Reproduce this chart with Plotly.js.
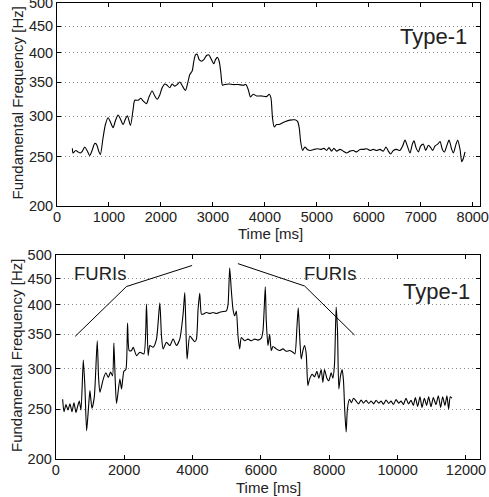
<!DOCTYPE html>
<html>
<head>
<meta charset="utf-8">
<script src="https://cdn.plot.ly/plotly-3.0.1.min.js"></script>
<style>html,body{margin:0;padding:0;background:#fff;}#chart{width:489px;height:497px;}</style>
</head>
<body>
<div id="chart"></div>
<script>
// ---- Data: top panel (Type-1, utterance 1) ----
var timeTop = [296,309,360,405,450,489,533,578,630,675,726,758,803,835,887,932,983,1028,1079,1124,1175,1220,1272,1317,1355,1413,1464,1497,1561,1612,1657,1721,1766,1830,1882,1927,1978,2023,2074,2119,2171,2216,2267,2312,2363,2408,2472,2511,2556,2601,2633,2665,2697,2736,2781,2825,2877,2922,2973,3018,3050,3089,3121,3153,3185,3230,3294,3390,3487,3583,3634,3679,3724,3776,3840,3936,4032,4084,4116,4148,4180,4225,4276,4334,4398,4482,4578,4629,4661,4687,4726,4771,4816,4880,4944,5008,5072,5137,5188,5233,5284,5329,5381,5445,5509,5573,5637,5702,5766,5830,5894,5958,6023,6087,6151,6215,6279,6331,6376,6420,6472,6536,6600,6652,6697,6741,6793,6838,6870,6909,6954,6999,7050,7095,7146,7191,7230,7275,7326,7371,7416,7455,7500,7545,7596,7628,7679,7711,7756,7788,7820,7852];
var f0Top = [259.4,254.1,257.0,255.3,254.1,256.2,261.1,257.0,251.2,257.0,265.2,264.4,256.2,252.1,272.5,288.9,297.9,292.2,284.8,293.9,301.5,296.3,288.9,296.3,300.5,287.7,308.9,322.3,322.3,325.2,321.3,317.3,326.2,336.1,328.7,323.8,330.2,341.1,347.0,345.0,341.1,347.0,343.6,346.0,350.0,344.5,337.1,347.0,362.2,367.8,384.4,395.6,396.7,387.2,384.4,387.2,394.4,395.6,387.2,380.0,387.2,391.1,384.4,365.0,345.0,346.0,347.0,346.0,346.0,345.0,346.0,338.6,327.2,331.2,328.7,328.7,327.7,331.2,326.2,297.1,285.7,288.9,288.9,291.0,293.0,294.7,295.1,293.0,284.8,268.4,257.0,261.1,258.2,257.0,258.2,259.0,258.2,259.4,257.0,260.3,256.2,259.4,256.2,258.2,256.2,254.1,256.2,257.0,255.3,258.2,258.2,259.0,257.0,258.2,257.0,258.2,256.2,261.1,256.2,252.9,257.0,258.2,257.0,262.3,269.3,262.3,254.1,264.4,268.4,260.3,255.3,262.3,264.4,257.0,263.1,260.3,257.0,262.3,264.4,267.6,258.2,255.3,262.3,269.3,258.2,254.1,264.4,269.3,258.2,244.3,248.1,255.3];

// ---- Data: bottom panel (Type-1 with FURIs) ----
var timeBot = [203,242,301,359,417,476,534,593,641,690,739,807,855,904,962,1001,1060,1128,1215,1254,1293,1391,1468,1537,1605,1663,1702,1741,1780,1877,1926,1994,2052,2101,2150,2218,2267,2364,2461,2578,2656,2704,2753,2850,2948,3045,3094,3142,3240,3337,3435,3532,3629,3726,3775,3804,3843,3921,3999,4067,4116,4164,4213,4262,4310,4408,4505,4602,4700,4797,4894,4992,5040,5089,5138,5186,5235,5284,5332,5381,5430,5527,5624,5721,5819,5916,6013,6062,6130,6159,6208,6257,6305,6354,6451,6549,6646,6743,6841,6938,6996,7055,7094,7133,7181,7230,7279,7327,7376,7425,7502,7570,7639,7697,7765,7814,7862,7931,7989,8057,8106,8154,8203,8242,8281,8330,8378,8417,8456,8495,8534,8592,8651,8709,8787,8855,8933,9001,9079,9157,9225,9303,9371,9449,9517,9585,9663,9741,9809,9877,9955,10033,10101,10169,10247,10315,10393,10461,10519,10587,10655,10714,10782,10850,10908,10977,11045,11123,11191,11259,11317,11385,11443,11492,11541,11590];
var f0Bot = [261.6,247.3,255.4,249.2,256.2,247.3,257.5,246.5,253.3,259.5,249.2,311.8,276.0,227.0,253.3,271.9,251.2,263.7,340.2,288.4,269.9,286.4,294.6,288.4,295.5,290.5,336.8,284.3,256.6,286.4,274.0,296.7,298.8,368.3,325.5,325.5,330.4,318.2,323.1,320.6,401.3,318.2,332.9,330.4,342.7,403.2,347.6,328.0,337.8,332.9,342.7,332.9,342.7,383.3,422.4,369.4,313.3,347.6,342.7,338.7,342.7,391.7,421.2,383.3,383.3,386.1,384.4,386.1,384.4,386.7,387.8,388.9,400.0,472.2,425.6,391.7,380.5,388.9,347.6,328.0,345.1,340.2,342.7,340.2,342.7,341.2,344.1,355.6,433.3,372.2,332.9,350.0,325.5,331.4,328.0,325.5,328.0,324.5,325.5,323.1,320.6,361.1,394.4,350.0,313.3,325.5,332.9,320.6,278.1,286.4,292.6,289.3,296.7,287.6,298.8,282.2,298.8,287.6,284.3,294.6,287.6,305.9,395.6,355.6,274.0,290.5,298.8,284.3,247.3,225.8,251.2,261.6,257.5,262.8,259.5,256.2,260.7,257.0,260.3,256.6,259.5,256.2,260.3,257.0,259.5,255.8,260.7,256.6,259.5,255.4,261.2,257.0,259.5,255.4,262.8,256.2,260.3,254.5,263.7,253.3,264.5,252.1,262.8,254.5,264.5,252.9,263.7,255.4,265.7,252.1,264.5,254.5,265.7,250.4,264.5,262.8];

// FURIs guide lines (bottom panel)
var furiLeftT = [570, 2070, 3990];
var furiLeftF = [347, 434, 477];
var furiRightT = [5330, 7280, 8740];
var furiRightF = [481, 435, 349];

var yTicks = [200, 250, 300, 350, 400, 450, 500];
var xTicksTop = [0, 1000, 2000, 3000, 4000, 5000, 6000, 7000, 8000];
var xTicksBot = [0, 2000, 4000, 6000, 8000, 10000, 12000];

var FONT = "Liberation Sans, Arial, Helvetica, sans-serif";
var TXT = '#222';

var traces = [
  {x: timeTop, y: f0Top, xaxis: 'x', yaxis: 'y', mode: 'lines',
   line: {color: '#000', width: 1.1, shape: 'spline', smoothing: 0.7}, hoverinfo: 'none'},
  {x: timeBot, y: f0Bot, xaxis: 'x2', yaxis: 'y2', mode: 'lines',
   line: {color: '#000', width: 1.1, shape: 'spline', smoothing: 0.6}, hoverinfo: 'none'},
  {x: furiLeftT, y: furiLeftF, xaxis: 'x2', yaxis: 'y2', mode: 'lines',
   line: {color: '#000', width: 1}, hoverinfo: 'none'},
  {x: furiRightT, y: furiRightF, xaxis: 'x2', yaxis: 'y2', mode: 'lines',
   line: {color: '#000', width: 1}, hoverinfo: 'none'}
];

function xAxis(domain, range, ticks, anchor) {
  return {
    domain: domain, range: range, anchor: anchor,
    tickmode: 'array', tickvals: ticks, ticktext: ticks.map(String),
    ticks: 'inside', ticklen: 4, tickwidth: 1, tickcolor: '#000',
    showline: true, linecolor: '#000', linewidth: 1, mirror: 'ticks',
    showgrid: false, zeroline: false, ticklabeloverflow: 'allow',
    ticklabelstandoff: -2,
    tickfont: {family: FONT, size: 14.5, color: TXT}
  };
}
function yAxis(domain, anchor) {
  return {
    domain: domain, type: 'log', range: [Math.log10(200), Math.log10(500)], anchor: anchor,
    tickmode: 'array', tickvals: yTicks, ticktext: yTicks.map(String),
    ticks: 'inside', ticklen: 4, tickwidth: 1, tickcolor: '#000',
    showline: true, linecolor: '#000', linewidth: 1, mirror: 'ticks',
    showgrid: true, gridcolor: '#8a8a8a', griddash: '1px,3px', gridwidth: 1,
    zeroline: false, ticklabeloverflow: 'allow',
    tickfont: {family: FONT, size: 14.5, color: TXT}
  };
}

var W = 489, H = 497;
function ann(text, px, py, size, xanchor, angle) {
  return {text: text, xref: 'paper', yref: 'paper', x: px / W, y: 1 - py / H,
          xanchor: xanchor, yanchor: 'middle', showarrow: false, textangle: angle || 0,
          font: {family: FONT, size: size, color: TXT}};
}

var layout = {
  width: W, height: H,
  margin: {l: 0, r: 0, t: 0, b: 0},
  paper_bgcolor: '#fff', plot_bgcolor: '#fff',
  showlegend: false,
  xaxis: xAxis([57 / W, 480 / W], [0, 8140], xTicksTop, 'y'),
  yaxis: yAxis([1 - 206 / H, 1 - 3 / H], 'x'),
  xaxis2: xAxis([55.7 / W, 480 / W], [0, 12410], xTicksBot, 'y2'),
  yaxis2: yAxis([1 - 459 / H, 1 - 255 / H], 'x2'),
  annotations: [
    ann('Time [ms]', 270, 233.5, 15, 'center'),
    ann('Time [ms]', 268, 487, 15, 'center'),
    ann('Fundamental Frequency [Hz]', 16.5, 103, 15, 'center', -90),
    ann('Fundamental Frequency [Hz]', 16, 356, 15, 'center', -90),
    ann('Type-1', 469, 36.5, 22, 'right'),
    ann('Type-1', 472, 291, 22, 'right'),
    ann('FURIs', 100.3, 273.5, 18.5, 'center'),
    ann('FURIs', 330, 273.5, 18.5, 'center')
  ]
};

Plotly.newPlot('chart', traces, layout, {staticPlot: true, displayModeBar: false});
</script>
</body>
</html>
